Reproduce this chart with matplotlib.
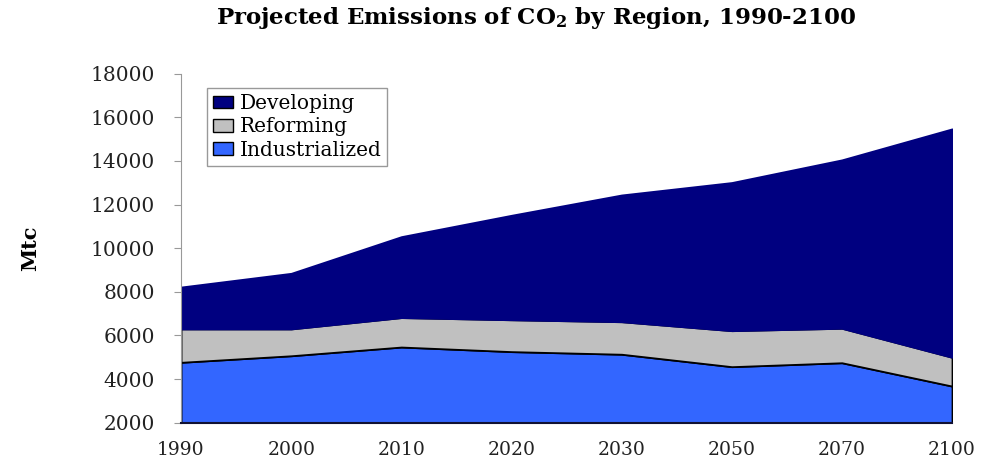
import matplotlib.pyplot as plt
import numpy as np

plt.rcParams['font.family'] = ['DejaVu Serif']
plt.rcParams['mathtext.fontset'] = 'dejavuserif'

years = ['1990', '2000', '2010', '2020', '2030', '2050', '2070', '2100']
industrialized = [4770, 5070, 5470, 5260, 5140, 4570, 4750, 3680]
reforming = [1530, 1230, 1350, 1460, 1490, 1650, 1580, 1320]
developing = [1920, 2550, 3710, 4790, 5810, 6790, 7720, 10470]

labels = ['Industrialized', 'Reforming', 'Developing']
colors = ['#3366ff', '#c0c0c0', '#000080']
edges = ['black', 'black', '#000080']

fig = plt.figure(figsize=(9.84, 4.59), dpi=100)
ax = fig.add_axes([0.184, 0.079, 0.7835, 0.7605])

x = np.arange(len(years))
polys = ax.stackplot(x, industrialized, reforming, developing,
                     labels=labels, colors=colors)
for p, ec in zip(polys, edges):
    p.set_edgecolor(ec)
    p.set_linewidth(1.3)

ax.set_xlim(0, len(years) - 1)
ax.set_ylim(2000, 18000)
ax.set_yticks(np.arange(2000, 18001, 2000))
ax.set_xticks(x)
ax.set_xticklabels(years)

for s in ['top', 'right']:
    ax.spines[s].set_visible(False)
ax.spines['left'].set_color('#999999')
ax.spines['bottom'].set_color('#111133')
ax.spines['bottom'].set_linewidth(1.5)
ax.tick_params(axis='y', colors='#999999', length=5, pad=14, labelsize=14.5,
               labelcolor='#222222')
ax.tick_params(axis='x', length=0, pad=13, labelsize=13.5, labelcolor='#222222')

ax.set_ylabel('Mtc', fontsize=15, fontweight='bold', labelpad=36)
fig.text(0.545, 0.96, r'Projected Emissions of CO$_\mathbf{2}$ by Region, 1990-2100',
         ha='center', va='center', fontsize=16.5, fontweight='bold')

h, l = ax.get_legend_handles_labels()
leg = ax.legend(h[::-1], l[::-1], loc='upper left', bbox_to_anchor=(0.034, 0.959),
                borderaxespad=0, fontsize=14.5, fancybox=False, framealpha=1,
                edgecolor='#999999', handlelength=1.0, handleheight=0.6,
                handletextpad=0.3, labelspacing=0.22, borderpad=0.3)
for hp in leg.legend_handles:
    hp.set_edgecolor('black')
    hp.set_linewidth(1)

fig.savefig('out.png', dpi=100)
